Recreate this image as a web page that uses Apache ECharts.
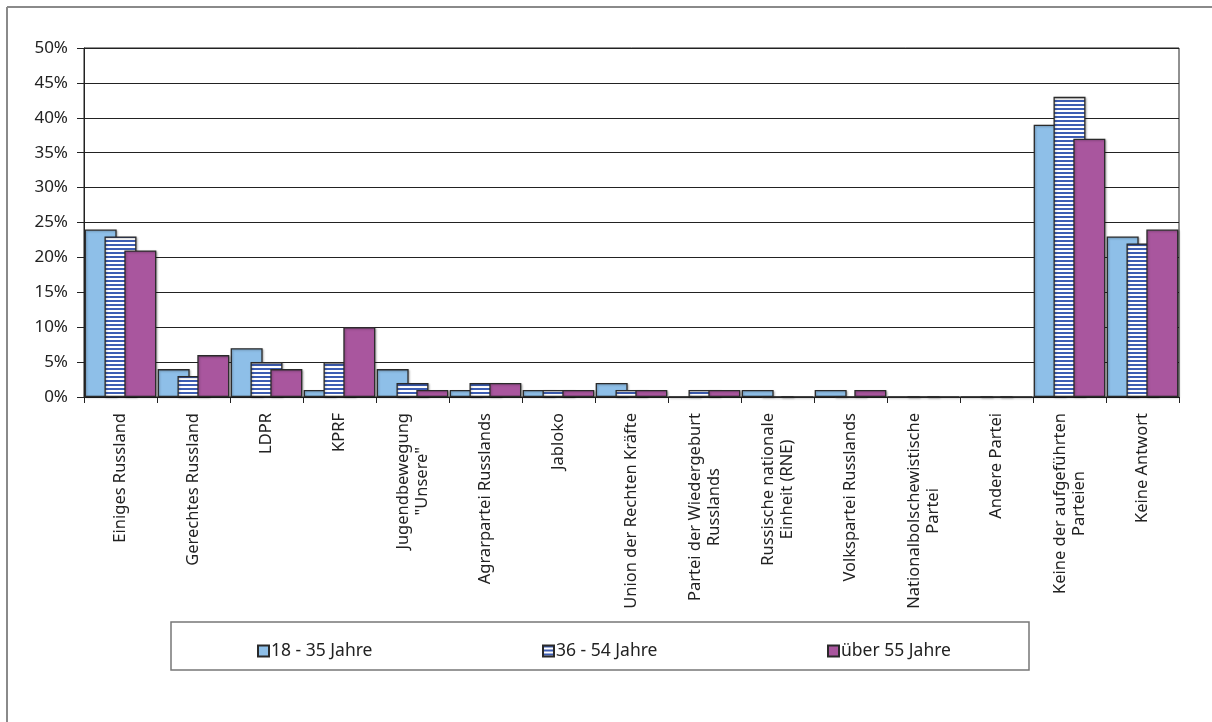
<!DOCTYPE html>
<html>
<head>
<meta charset="utf-8">
<script src="https://cdn.jsdelivr.net/npm/echarts@6/dist/echarts.min.js"></script>
<style>
html,body{margin:0;padding:0;background:#fff;}
#chart{width:1212px;height:722px;}
</style>
</head>
<body>
<div id="chart"></div>
<script>
const categories = [
  'Einiges Russland',
  'Gerechtes Russland',
  'LDPR',
  'KPRF',
  'Jugendbewegung\n"Unsere"',
  'Agrarpartei Russlands',
  'Jabloko',
  'Union der Rechten Kräfte',
  'Partei der Wiedergeburt\nRusslands',
  'Russische nationale\nEinheit (RNE)',
  'Volkspartei Russlands',
  'Nationalbolschewistische\nPartei',
  'Andere Partei',
  'Keine der aufgeführten\nParteien',
  'Keine Antwort'
];
const seriesNames = ['18 - 35 Jahre', '36 - 54 Jahre', 'über 55 Jahre'];
const age18_35 = [24, 4, 7, 1, 4, 1, 1, 2, 0, 1, 1, 0, 0, 39, 23];
const age36_54 = [23, 3, 5, 5, 2, 2, 1, 1, 1, 0, 0, 0, 0, 43, 22];
const age55plus = [21, 6, 4, 10, 1, 2, 1, 1, 1, 0, 1, 0, 0, 37, 24];
const yTicks = {min: 0, max: 50, interval: 5};

const FONT = '"Noto Sans", "DejaVu Sans", sans-serif';

// striped pattern
const pc = document.createElement('canvas');
pc.width = 4; pc.height = 4;
const pctx = pc.getContext('2d');
pctx.fillStyle = '#ffffff';
pctx.fillRect(0, 0, 4, 4);
pctx.fillStyle = '#3d5db3';
pctx.fillRect(0, 0, 4, 2);

const chart = echarts.init(document.getElementById('chart'), null, {renderer: 'canvas'});

const barBase = {
  type: 'bar',
  barWidth: 32,
  barGap: '-38%',
  barCategoryGap: '0%',
  animation: false
};
const border = {borderColor: '#2a2a2a', borderWidth: 1.3, shadowColor: 'rgba(0,0,0,0.25)', shadowBlur: 2, shadowOffsetX: 1, shadowOffsetY: 1};

const legendCommon = {
  top: 637,
  itemWidth: 11,
  itemHeight: 11,
  itemGap: 4,
  icon: 'rect',
  textStyle: {fontFamily: FONT, fontSize: 17.5, color: '#222', padding: [0, 0, 0, -3]}
};

chart.setOption({
  backgroundColor: '#fff',
  animation: false,
  grid: {left: 84, right: 33, top: 48, bottom: 325, show: true, borderColor: '#222', borderWidth: 1, backgroundColor: 'transparent'},
  legend: [
    Object.assign({}, legendCommon, {left: 252, data: [seriesNames[0]]}),
    Object.assign({}, legendCommon, {left: 537, data: [seriesNames[1]]}),
    Object.assign({}, legendCommon, {left: 822, data: [seriesNames[2]]})
  ],
  xAxis: {
    type: 'category',
    data: categories,
    axisLine: {lineStyle: {color: '#222', width: 1}},
    axisTick: {show: true, length: 6, lineStyle: {color: '#222'}},
    axisLabel: {
      rotate: 90,
      interval: 0,
      margin: 16,
      formatter: v => v.split('\n').map(l => '{c|' + l + '}').join('\n'),
      rich: {c: {align: 'center', fontFamily: FONT, fontSize: 16.5, lineHeight: 19, color: '#222'}}
    },
    splitLine: {show: false}
  },
  yAxis: {
    type: 'value',
    min: yTicks.min,
    max: yTicks.max,
    interval: yTicks.interval,
    axisLine: {show: true, lineStyle: {color: '#222', width: 1}},
    axisTick: {show: true, length: 7, lineStyle: {color: '#222'}},
    axisLabel: {formatter: '{value}%', margin: 16, fontFamily: FONT, fontSize: 17, color: '#222'},
    splitLine: {show: true, lineStyle: {color: '#222', width: 1.2}}
  },
  graphic: [
    {type: 'line', shape: {x1: 7, y1: 7, x2: 1212, y2: 7}, style: {stroke: '#8a8a8a', lineWidth: 2}, silent: true},
    {type: 'line', shape: {x1: 7, y1: 7, x2: 7, y2: 722}, style: {stroke: '#8a8a8a', lineWidth: 2}, silent: true},
    {type: 'rect', shape: {x: 171, y: 622, width: 858, height: 48}, style: {fill: 'none', stroke: '#777', lineWidth: 1.5}, silent: true, z: -1}
  ],
  series: [
    Object.assign({}, barBase, {name: seriesNames[0], data: age18_35, itemStyle: Object.assign({color: '#8ebfe8'}, border)}),
    Object.assign({}, barBase, {name: seriesNames[1], data: age36_54, itemStyle: Object.assign({color: {image: pc, repeat: 'repeat'}}, border)}),
    Object.assign({}, barBase, {name: seriesNames[2], data: age55plus, itemStyle: Object.assign({color: '#a9569e'}, border)})
  ]
});
</script>
</body>
</html>
